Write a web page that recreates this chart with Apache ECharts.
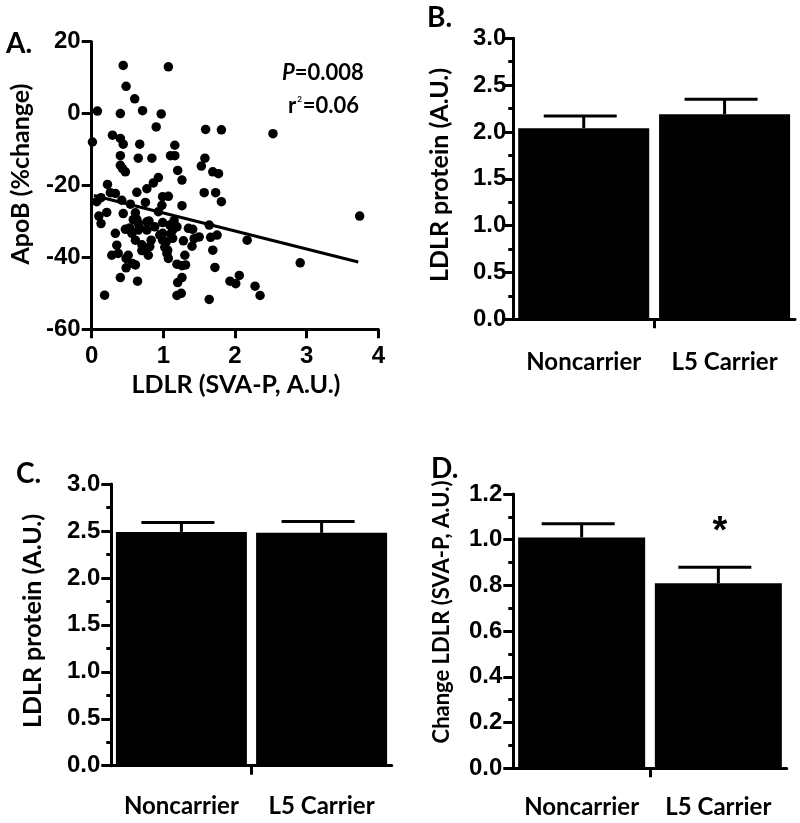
<!DOCTYPE html>
<html><head><meta charset="utf-8">
<script src="https://cdn.jsdelivr.net/npm/echarts@6/dist/echarts.min.js"></script>
<style>html,body{margin:0;padding:0;background:#fff}#c{width:800px;height:823px}</style>
</head><body><div id="c"></div>
<script>
// ---- Panel A: scatter ----
const scatterLDLR = [0.44,1.07,0.48,0.60,0.08,0.40,0.71,0.97,0.90,1.59,1.81,2.53,0.01,0.29,0.40,0.44,0.67,1.16,0.40,0.65,
  0.84,1.10,1.16,1.58,1.53,0.40,0.43,0.47,1.20,1.69,1.77,0.93,0.86,1.26,0.22,1.57,1.73,0.63,0.77,0.26,
  0.33,0.13,0.07,0.42,0.54,0.75,0.99,1.07,0.98,1.26,1.81,0.21,0.44,0.61,0.93,0.10,0.13,0.63,0.65,0.77,
  0.80,0.99,1.09,1.19,1.64,3.74,0.33,0.47,0.56,0.67,0.77,0.99,1.13,1.35,1.41,1.50,1.66,1.75,0.61,0.83,
  0.99,1.13,1.28,1.43,2.17,0.35,0.81,1.02,1.40,0.37,0.28,0.51,0.70,0.79,1.05,1.07,1.30,1.69,2.91,0.48,
  0.57,0.48,0.61,1.19,1.26,1.31,1.72,0.40,1.26,2.06,0.64,1.20,1.93,2.01,2.28,0.18,1.25,1.19,1.64,2.35,
  0.53,0.72,1.04,1.06,0.65,1.10,0.88,0.58,0.70,1.15,0.95];
const scatterApoB = [13.4,13.0,7.6,4.1,0.7,0.0,0.8,-0.1,-3.7,-4.4,-4.5,-5.6,-7.9,-6.0,-6.9,-8.5,-8.5,-8.8,-11.7,-12.4,
  -12.4,-11.7,-11.7,-12.4,-14.6,-14.4,-15.3,-16.2,-15.8,-16.2,-16.7,-17.8,-19.3,-18.5,-19.7,-22.0,-22.0,-21.9,-20.9,-22.0,
  -22.2,-23.4,-24.5,-24.1,-25.2,-24.7,-23.1,-23.0,-25.5,-25.6,-24.5,-27.5,-27.8,-27.6,-27.3,-28.5,-30.6,-29.4,-30.6,-30.1,
  -29.9,-30.3,-31.0,-31.5,-31.0,-28.5,-33.3,-32.2,-33.3,-31.9,-32.4,-33.3,-32.4,-31.9,-32.2,-34.3,-34.4,-33.8,-35.2,-35.2,
  -35.2,-34.7,-35.4,-34.8,-35.2,-36.6,-37.0,-37.2,-36.9,-38.9,-39.4,-39.4,-38.1,-39.4,-38.9,-40.3,-39.4,-38.0,-41.5,-40.3,
  -41.7,-42.9,-42.1,-41.9,-42.3,-42.1,-42.8,-45.6,-45.6,-45.0,-46.6,-47.0,-46.6,-47.3,-48.0,-50.5,-50.0,-50.6,-51.7,-50.6,
  -31.8,-38.0,-35.7,-38.0,-32.4,-33.5,-31.5,-29.5,-36.5,-29.8,-33.8];
const fitX = [0.03, 3.72];
const fitY = [-22.8, -41.3];
const statP = '0.008';
const statR2 = '0.06';

// ---- Bar panels ----
const groups = ['Noncarrier', 'L5 Carrier'];
const bMean = [2.04, 2.19];
const bSem  = [0.13, 0.16];
const cMean = [2.49, 2.48];
const cSem  = [0.10, 0.12];
const dMean = [1.01, 0.81];
const dSem  = [0.06, 0.07];

const TTL = 'bold 25px Lato, "Open Sans", sans-serif';
const groupPos = [0.5, 1.5];

const axisLineStyle = {show: true, lineStyle: {color: '#000', width: 3}};
const tickStyle = {color: '#000', width: 3};

function barData(mean){ return mean.map((m,i)=>[groupPos[i], m]); }
function errData(mean, sem){ return mean.map((m,i)=>[groupPos[i], m, +(m+sem[i]).toFixed(3)]); }
function errRender(params, api){
  const x = api.value(0), m = api.value(1), u = api.value(2);
  const p0 = api.coord([x, m]), p1 = api.coord([x, u]);
  return {type:'group', children:[
    {type:'line', shape:{x1:p0[0], y1:p0[1], x2:p1[0], y2:p1[1]}, style:{stroke:'#000', lineWidth:3}},
    {type:'line', shape:{x1:p1[0]-40, y1:p1[1], x2:p1[0]+33, y2:p1[1]}, style:{stroke:'#000', lineWidth:3}}
  ]};
}
function catX(gi, margin){
  return {gridIndex: gi, type:'value', min:0, max:2,
    axisLine: axisLineStyle,
    axisTick: {show:true, customValues:[1], length:9, lineStyle: tickStyle},
    axisLabel: {customValues: groupPos, margin: margin, color:'#000',
      fontFamily:'Lato, "Open Sans", sans-serif', fontWeight:'bold', fontSize:24,
      formatter: v => groups[Math.round(v - 0.5)]},
    splitLine: {show:false}};
}
function valY(gi, max, interval, dec, margin){
  return {gridIndex: gi, type:'value', min:0, max:max, interval:interval,
    axisLine: axisLineStyle,
    axisTick: {show:true, length:10, lineStyle: tickStyle},
    minorTick: {show:true, splitNumber:2, length:5, lineStyle: tickStyle},
    axisLabel: {margin: margin, color:'#000', fontFamily:'"Liberation Sans", Arial, sans-serif', fontWeight:'bold', fontSize:24,
      formatter: v => v.toFixed(dec)},
    splitLine: {show:false}};
}

const chart = echarts.init(document.getElementById('c'), null, {renderer:'canvas'});
chart.setOption({
  backgroundColor:'#fff',
  animation:false,
  grid: [
    {left:91.7, top:41.7, width:286.6, height:287.6, outerBoundsMode:'none'},
    {left:513.3, top:38.3, width:281.7, height:281, outerBoundsMode:'none'},
    {left:111.3, top:484, width:280.4, height:281.7, outerBoundsMode:'none'},
    {left:513.3, top:494, width:273.4, height:274.3, outerBoundsMode:'none'}
  ],
  xAxis: [
    {gridIndex:0, type:'value', min:0, max:4, interval:1,
      axisLine: Object.assign({onZero:false}, axisLineStyle),
      axisTick:{show:true, length:9, lineStyle: tickStyle},
      axisLabel:{margin:15, color:'#000', fontFamily:'"Liberation Sans", Arial, sans-serif', fontWeight:'bold', fontSize:24},
      splitLine:{show:false}},
    catX(1, 31), catX(2, 29), catX(3, 27)
  ],
  yAxis: [
    {gridIndex:0, type:'value', min:-60, max:20, interval:20,
      axisLine: Object.assign({onZero:false}, axisLineStyle),
      axisTick:{show:true, length:10, lineStyle: tickStyle},
      axisLabel:{margin:11, color:'#000', fontFamily:'"Liberation Sans", Arial, sans-serif', fontWeight:'bold', fontSize:24},
      splitLine:{show:false}},
    valY(1, 3, 0.5, 1, 7), valY(2, 3, 0.5, 1, 11), valY(3, 1.2, 0.2, 1, 11)
  ],
  series: [
    {type:'scatter', xAxisIndex:0, yAxisIndex:0, symbolSize:9.5, itemStyle:{color:'#000', opacity:1},
      data: scatterLDLR.map((x,i)=>[x, scatterApoB[i]])},
    {type:'line', xAxisIndex:0, yAxisIndex:0, symbol:'none', lineStyle:{color:'#000', width:3},
      data: fitX.map((x,i)=>[x, fitY[i]])},
    {type:'bar', xAxisIndex:1, yAxisIndex:1, barWidth:131, itemStyle:{color:'#000'}, data: barData(bMean)},
    {type:'custom', xAxisIndex:1, yAxisIndex:1, renderItem: errRender, data: errData(bMean, bSem), z:3},
    {type:'bar', xAxisIndex:2, yAxisIndex:2, barWidth:131, itemStyle:{color:'#000'}, data: barData(cMean)},
    {type:'custom', xAxisIndex:2, yAxisIndex:2, renderItem: errRender, data: errData(cMean, cSem), z:3},
    {type:'bar', xAxisIndex:3, yAxisIndex:3, barWidth:127, itemStyle:{color:'#000'}, data: barData(dMean)},
    {type:'custom', xAxisIndex:3, yAxisIndex:3, renderItem: errRender, data: errData(dMean, dSem), z:3}
  ],
  graphic: [
    {type:'text', x:6, y:44, style:{text:'A.', font:'bold 28px Lato, sans-serif', fill:'#000', textVerticalAlign:'middle'}},
    {type:'text', x:427, y:18, style:{text:'B.', font:'bold 28px Lato, sans-serif', fill:'#000', textVerticalAlign:'middle'}},
    {type:'text', x:16, y:474, style:{text:'C.', font:'bold 28px Lato, sans-serif', fill:'#000', textVerticalAlign:'middle'}},
    {type:'text', x:431, y:469, style:{text:'D.', font:'bold 28px Lato, sans-serif', fill:'#000', textVerticalAlign:'middle'}},
    {type:'text', x:236, y:385, style:{text:'LDLR (SVA-P, A.U.)', font:TTL, fill:'#000', textAlign:'center', textVerticalAlign:'middle'}},
    {type:'text', x:21, y:174, rotation:Math.PI/2, style:{text:'ApoB (%change)', font:TTL, fill:'#000', textAlign:'center', textVerticalAlign:'middle'}},
    {type:'text', x:440, y:175, rotation:Math.PI/2, style:{text:'LDLR protein (A.U.)', font:TTL, fill:'#000', textAlign:'center', textVerticalAlign:'middle'}},
    {type:'text', x:33, y:621, rotation:Math.PI/2, style:{text:'LDLR protein (A.U.)', font:TTL, fill:'#000', textAlign:'center', textVerticalAlign:'middle'}},
    {type:'text', x:442, y:612, rotation:Math.PI/2, style:{text:'Change LDLR (SVA-P, A.U.)', font:'bold 22px Lato, "Open Sans", sans-serif', fill:'#000', textAlign:'center', textVerticalAlign:'middle'}},
    {type:'text', x:282, y:73, style:{text:'{i|P}{n|=' + statP + '}', textVerticalAlign:'middle',
      rich:{i:{font:'italic bold 22px Lato, sans-serif', fill:'#000'}, n:{font:'bold 22px Lato, sans-serif', fill:'#000'}}}},
    {type:'text', x:288, y:106, style:{text:'{n|r}{s|2}{n|=' + statR2 + '}', textVerticalAlign:'middle',
      rich:{n:{font:'bold 22px Lato, sans-serif', fill:'#000'}, s:{font:'bold 8px Lato, sans-serif', fill:'#000', verticalAlign:'top', padding:[0,1,10,1]}}}},
    {type:'text', x:720, y:533, style:{text:'*', font:'bold 38px "Liberation Sans", sans-serif', fill:'#000', textAlign:'center', textVerticalAlign:'middle'}}
  ]
});
</script></body></html>
